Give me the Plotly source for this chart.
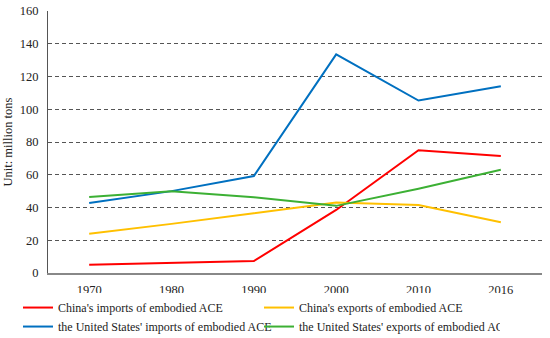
import plotly.graph_objects as go

years = ["1970", "1980", "1990", "2000", "2010", "2016"]
china_imports = [5, 6, 7.3, 38.5, 75, 71.5]
china_exports = [24, 30, 36.5, 43, 41.5, 31]
us_imports = [42.7, 50, 59.2, 133.5, 105.3, 114]
us_exports = [46.4, 50, 46.2, 41, 51.5, 63]
y_ticks = [0, 20, 40, 60, 80, 100, 120, 140, 160]

series = [
    ("China's imports of embodied ACE", china_imports, "#FF0000"),
    ("China's exports of embodied ACE", china_exports, "#FFC000"),
    ("the United States' imports of embodied ACE", us_imports, "#0070C0"),
    ("the United States' exports of embodied ACE", us_exports, "#3CB034"),
]

fig = go.Figure()
for name, vals, color in series:
    fig.add_trace(go.Scatter(x=years, y=vals, name=name, mode="lines",
                             line=dict(color=color, width=2)))

font = "Liberation Serif, Times New Roman, serif"
fig.update_layout(
    width=550, height=338,
    margin=dict(l=48, r=8, t=11, b=65),
    paper_bgcolor="white", plot_bgcolor="white",
    font=dict(family=font, size=12, color="#222"),
    showlegend=True,
    legend=dict(orientation="h", xref="container", x=18 / 550, xanchor="left",
                yref="container", y=0.133, yanchor="top",
                entrywidth=196, entrywidthmode="pixels",
                font=dict(family=font, size=12, color="#222"),
                tracegroupgap=0, itemwidth=30),
    xaxis=dict(type="category", range=[-0.5, 5.5], showgrid=False, showline=True,
               linecolor="#888", linewidth=1.5, ticks="", tickfont=dict(size=12.5),
               zeroline=False, automargin=False, ticklabelstandoff=4),
    yaxis=dict(range=[0, 160], tickvals=y_ticks, showgrid=True, gridcolor="#555",
               griddash="4px,3px", gridwidth=1, showline=True, linecolor="#555",
               linewidth=1, zeroline=False, ticks="", automargin=False,
               ticklabelstandoff=6,
               title=dict(text="Unit: million tons", standoff=4, font=dict(size=12.5)),
               tickfont=dict(size=12.5)),
)
fig.write_html("out.html", config={"displayModeBar": False},
               post_script="document.body.style.margin='0';")
